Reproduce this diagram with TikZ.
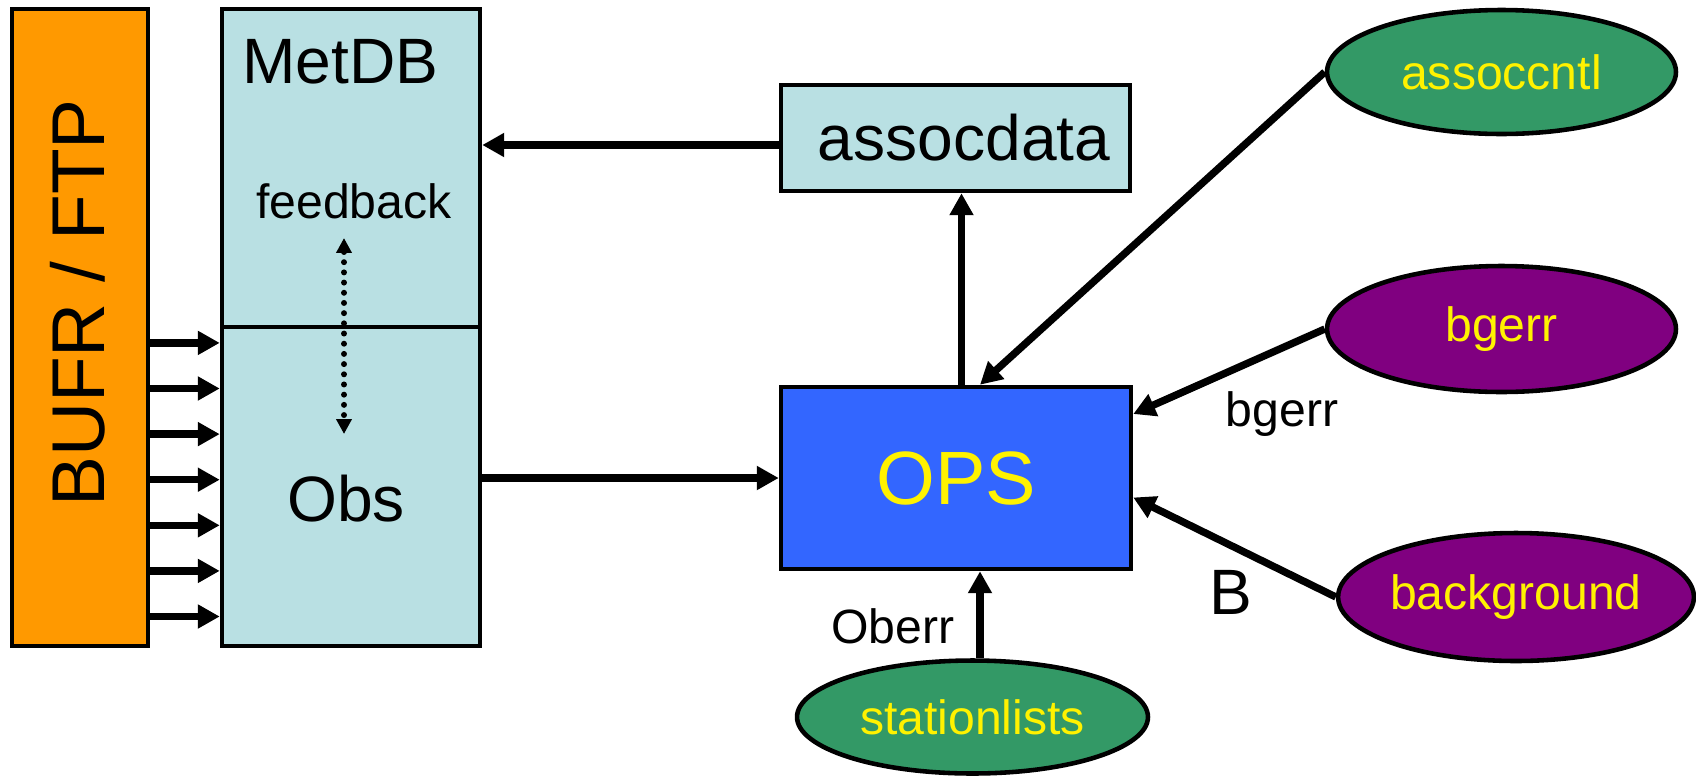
\documentclass[tikz,border=0pt]{standalone}
\usepackage{fontspec}
\setmainfont{Liberation Sans}
\usetikzlibrary{shapes.geometric,arrows.meta,positioning}

\definecolor{bufrorange}{RGB}{255,153,0}
\definecolor{dbcyan}{RGB}{185,224,227}
\definecolor{opsblue}{RGB}{51,102,255}
\definecolor{cntlgreen}{RGB}{51,153,102}
\definecolor{errpurple}{RGB}{128,0,128}

\begin{document}
\begin{tikzpicture}
     [
     x=0.02cm, y=-0.02cm,
     every node/.style={font=\fontsize{27.4}{30}\selectfont, inner sep=0pt},
     big/.style={font=\fontsize{36.5}{40}\selectfont},
     box/.style={draw, line width=2.6pt, fill=dbcyan},
     blob/.style={draw, ellipse, line width=2.6pt, text=yellow},
     link/.style={line width=4.2pt, -{Triangle[length=12.5pt,width=13pt]}}
     ]
     \useasboundingbox (0,0) rectangle (1696,778);
     % left side: feed and database
     \node[box, fill=bufrorange, minimum width=2.72cm, minimum height=12.74cm] (bufr) at (80,327.5) {};
     \node[rotate=90, font=\fontsize{42.6}{46}\selectfont] (bufrlbl) at (78,303) {BUFR / FTP};
     \node[box, minimum width=5.16cm, minimum height=6.36cm] (metdb) at (351,168) {};
     \node[box, minimum width=5.16cm, minimum height=6.38cm] (obs) at (351,486.5) {};
     \node[big] (metdblbl) at (340.5,62) {MetDB};
     \node (feedback) at (354,201) {feedback};
     \node[big] (obslbl) at (346,499) {Obs};
     \coordinate (fbtop) at (344,238);
     \coordinate (fbbot) at (344,434);
     \draw[line width=3.4pt, line cap=round, dash pattern=on 0pt off 5.8pt,
          {Triangle[length=8.5pt,width=8.5pt]}-{Triangle[length=8.5pt,width=8.5pt]}] (fbtop) -- (fbbot);
     \foreach \k [evaluate=\k as \yy using 342.9+45.6*\k] in {0,...,6}
       {
       \coordinate (row\k) at (0,\yy);
       \draw[link] (bufr.east |- row\k) -- (obs.west |- row\k);
       }
     % OPS and its inputs
     \node[box, big, minimum width=6.98cm, minimum height=2.12cm] (assocdata) at (955.5,138) {\hspace{0.34cm}assocdata};
     \node[box, fill=opsblue, text=yellow, font=\fontsize{43}{47}\selectfont,
          minimum width=7cm, minimum height=3.64cm] (ops) at (956,478) {OPS};
     \node[blob, fill=cntlgreen, minimum width=6.98cm, minimum height=2.48cm] (assoccntl) at (1501.5,72) {assoccntl};
     \node[blob, fill=errpurple, minimum width=6.98cm, minimum height=2.52cm] (bgerr) at (1501.5,329) {bgerr};
     \node[blob, fill=errpurple, minimum width=6.96cm, minimum height=2.56cm] (background) at (1516,597) {background};
     \node[blob, fill=cntlgreen, minimum width=7.02cm, minimum height=2.26cm] (stationlists) at (972.5,717) {stationlists};
     \draw[link] ([yshift=-0.14cm]assocdata.west) -- ([yshift=-0.14cm]assocdata.west -| metdb.east);
     \draw[link] ([xshift=0.11cm]ops.north) -- ([xshift=0.11cm]ops.north |- assocdata.south);
     \draw[link] (ops.west -| obs.east) -- (ops.west);
     \draw[link] (assoccntl.west) -- ([xshift=0.48cm]ops.north);
     \draw[link] (bgerr.west) -- ([yshift=1.28cm]ops.east);
     \draw[link] (background.west) -- ([yshift=-0.39cm]ops.east);
     \draw[link] ([xshift=0.48cm]ops.south |- stationlists.north) -- ([xshift=0.48cm]ops.south);
     \node (bgerrlbl) at (1282,414) {bgerr};
     \node[big] (blbl) at (1231,592.5) {B};
     \node (oberr) at (893,626) {Oberr};
\end{tikzpicture}
\end{document}
